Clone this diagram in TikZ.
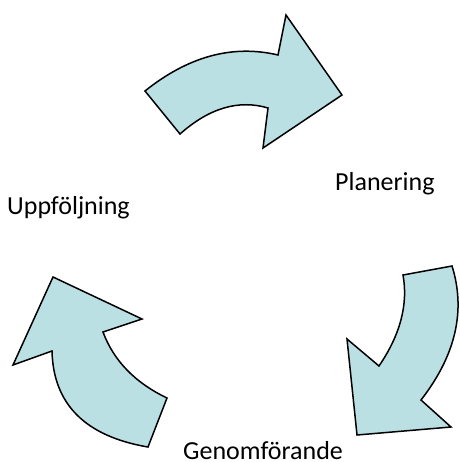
\documentclass[tikz,border=0pt]{standalone}
\usepackage{fontspec}
\setmainfont{Carlito}
\definecolor{arrowfill}{RGB}{186,224,228}
\begin{document}
\begin{tikzpicture}[x=1pt,y=-1pt,
  cyc/.style={fill=arrowfill,draw=black,line width=1.5pt,line join=miter},
  lbl/.style={inner sep=0pt,anchor=base west,font=\fontsize{26}{31}\selectfont}]
\useasboundingbox (0,0) rectangle (459,462);
% top arrow
\path[cyc] (145,91) .. controls (188.3,56.3) and (232.7,44.3) .. (278,55) -- (286,15) -- (342,95)
  -- (263,148) -- (268,108) .. controls (238.7,99.3) and (209.3,108) .. (180,134) -- cycle;
% right arrow
\path[cyc] (403,275) -- (452,266) .. controls (466,310.7) and (455.7,355.3) .. (421,400) -- (451,427)
  -- (357,435) -- (347,339) -- (379,366) .. controls (400.3,334.7) and (408.3,304.3) .. (403,275) -- cycle;
% left arrow
\path[cyc] (148,447) -- (167,398) .. controls (135,382.7) and (113.7,360.7) .. (103,332) -- (142,319)
  -- (53,277) -- (13,365) -- (52,351) .. controls (53.3,404.3) and (85.3,436.3) .. (148,447) -- cycle;
\node[lbl] (plan) at (335,190) {Planering};
\node[lbl] (uppf) at (7,214.5) {Uppföljning};
\node[lbl] (genf) at (183,459) {Genomförande};
\end{tikzpicture}
\end{document}
